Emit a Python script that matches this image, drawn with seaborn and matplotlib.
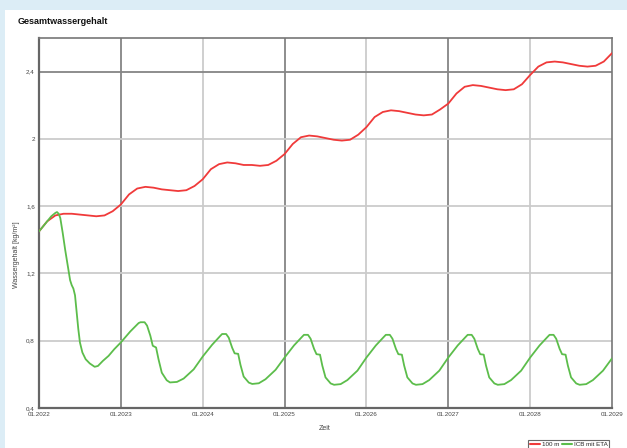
import matplotlib
matplotlib.use("Agg")
import matplotlib.pyplot as plt
from matplotlib.patches import Rectangle
from matplotlib.lines import Line2D
import numpy as np
import pandas as pd
import seaborn as sns

# ---- data -------------------------------------------------------------
serie_namen = ["100 m", "ICB mit ETA"]
serie_farben = ["#f03a3a", "#5cbd4b"]

# total water content over time (decimal years), kg/m²
rot_jahr = [
    2022.0, 2022.1, 2022.2, 2022.3, 2022.4, 2022.5, 2022.6, 2022.7, 2022.8, 2022.9,
    2023.0, 2023.1, 2023.2, 2023.3, 2023.4, 2023.5, 2023.6, 2023.7, 2023.8, 2023.9,
    2024.0, 2024.1, 2024.2, 2024.3, 2024.4, 2024.5, 2024.6, 2024.7, 2024.8, 2024.9,
    2025.0, 2025.1, 2025.2, 2025.3, 2025.4, 2025.5, 2025.6, 2025.7, 2025.8, 2025.9,
    2026.0, 2026.1, 2026.2, 2026.3, 2026.4, 2026.5, 2026.6, 2026.7, 2026.8, 2026.9,
    2027.0, 2027.1, 2027.2, 2027.3, 2027.4, 2027.5, 2027.6, 2027.7, 2027.8, 2027.9,
    2028.0, 2028.1, 2028.2, 2028.3, 2028.4, 2028.5, 2028.6, 2028.7, 2028.8, 2028.9,
    2029.0,
]
rot_wert = [
    1.45, 1.51, 1.545, 1.555, 1.555, 1.55, 1.545, 1.54, 1.545, 1.57,
    1.61, 1.67, 1.705, 1.715, 1.71, 1.70, 1.695, 1.69, 1.695, 1.72,
    1.76, 1.82, 1.85, 1.86, 1.855, 1.845, 1.845, 1.84, 1.845, 1.87,
    1.91, 1.97, 2.01, 2.02, 2.015, 2.005, 1.995, 1.99, 1.995, 2.025,
    2.07, 2.13, 2.16, 2.17, 2.165, 2.155, 2.145, 2.14, 2.145, 2.175,
    2.21, 2.27, 2.31, 2.32, 2.315, 2.305, 2.295, 2.29, 2.295, 2.325,
    2.38, 2.43, 2.455, 2.46, 2.455, 2.445, 2.435, 2.43, 2.435, 2.46,
    2.51,
]

gruen_jahr = [
    2022.00, 2022.05, 2022.10, 2022.15, 2022.20, 2022.22, 2022.24, 2022.26, 2022.29,
    2022.32, 2022.35, 2022.38, 2022.40, 2022.42, 2022.44, 2022.46, 2022.48, 2022.50,
    2022.53, 2022.57, 2022.62, 2022.68, 2022.72, 2022.78, 2022.85, 2022.92,
    2023.000, 2023.115, 2023.217, 2023.240, 2023.290, 2023.320, 2023.360, 2023.390,
    2023.430, 2023.460, 2023.500, 2023.560, 2023.600, 2023.685, 2023.767, 2023.890,
    2024.000, 2024.115, 2024.217, 2024.237, 2024.286, 2024.318, 2024.360, 2024.390,
    2024.433, 2024.461, 2024.500, 2024.563, 2024.605, 2024.685, 2024.767, 2024.890,
    2025.000, 2025.115, 2025.217, 2025.237, 2025.286, 2025.318, 2025.360, 2025.390,
    2025.433, 2025.461, 2025.500, 2025.563, 2025.605, 2025.685, 2025.767, 2025.890,
    2026.000, 2026.115, 2026.217, 2026.237, 2026.286, 2026.318, 2026.360, 2026.390,
    2026.433, 2026.461, 2026.500, 2026.563, 2026.605, 2026.685, 2026.767, 2026.890,
    2027.000, 2027.115, 2027.217, 2027.237, 2027.286, 2027.318, 2027.360, 2027.390,
    2027.433, 2027.461, 2027.500, 2027.563, 2027.605, 2027.685, 2027.767, 2027.890,
    2028.000, 2028.115, 2028.217, 2028.237, 2028.286, 2028.318, 2028.360, 2028.390,
    2028.433, 2028.461, 2028.500, 2028.563, 2028.605, 2028.685, 2028.767, 2028.890,
    2029.000,
]
gruen_wert = [
    1.45, 1.48, 1.51, 1.54, 1.56, 1.565, 1.555, 1.53, 1.44,
    1.34, 1.25, 1.16, 1.13, 1.11, 1.07, 0.97, 0.87, 0.79,
    0.73, 0.69, 0.665, 0.645, 0.65, 0.68, 0.71, 0.75,
    0.79, 0.855, 0.905, 0.91, 0.91, 0.89, 0.83, 0.77,
    0.76, 0.69, 0.61, 0.565, 0.552, 0.555, 0.575, 0.63,
    0.706, 0.776, 0.83, 0.84, 0.84, 0.818, 0.758, 0.725,
    0.722, 0.657, 0.587, 0.551, 0.543, 0.547, 0.571, 0.627,
    0.700, 0.772, 0.825, 0.835, 0.835, 0.812, 0.752, 0.72,
    0.717, 0.652, 0.582, 0.546, 0.538, 0.542, 0.566, 0.622,
    0.700, 0.772, 0.825, 0.835, 0.835, 0.812, 0.752, 0.72,
    0.717, 0.652, 0.582, 0.546, 0.538, 0.542, 0.566, 0.622,
    0.700, 0.772, 0.825, 0.835, 0.835, 0.812, 0.752, 0.72,
    0.717, 0.652, 0.582, 0.546, 0.538, 0.542, 0.566, 0.622,
    0.700, 0.772, 0.825, 0.835, 0.835, 0.812, 0.752, 0.72,
    0.717, 0.652, 0.582, 0.546, 0.538, 0.542, 0.566, 0.622,
    0.695,
]

x_ticks = [2022, 2023, 2024, 2025, 2026, 2027, 2028, 2029]
x_labels = ["01.2022", "01.2023", "01.2024", "01.2025",
            "01.2026", "01.2027", "01.2028", "01.2029"]
y_ticks = [0.4, 0.8, 1.2, 1.6, 2.0, 2.4]
y_labels = ["0,4", "0,8", "1,2", "1,6", "2", "2,4"]
x_grid_dunkel = [2023, 2025, 2027]
y_grid_dunkel = [2.4]

# ---- figure -----------------------------------------------------------
sns.set_theme(style="white")
plt.rcParams["font.family"] = ["Liberation Sans", "DejaVu Sans"]

W, H = 627, 448
fig = plt.figure(figsize=(W / 100, H / 100), dpi=100, facecolor="#dcedf6")

# white panel on the light blue page
panel = fig.add_axes([5 / W, 0, 1 - 5 / W, 1 - 10 / H], zorder=0)
panel.set_facecolor("white")
panel.set_axis_off()
panel.add_patch(Rectangle((0, 0), 1, 1, transform=panel.transAxes,
                          facecolor="white", edgecolor="none"))

ax = fig.add_axes([39 / W, 1 - 408 / H, (612 - 39) / W, (408 - 38) / H], zorder=2)
ax.set_facecolor("white")

df = pd.concat([
    pd.DataFrame({"Jahr": rot_jahr, "Wert": rot_wert, "Serie": serie_namen[0]}),
    pd.DataFrame({"Jahr": gruen_jahr, "Wert": gruen_wert, "Serie": serie_namen[1]}),
], ignore_index=True)

sns.lineplot(data=df, x="Jahr", y="Wert", hue="Serie",
             palette=dict(zip(serie_namen, serie_farben)),
             estimator=None, sort=False, linewidth=1.3, legend=False,
             ax=ax, zorder=3)

# grid: alternating dark / light lines
for xv in x_ticks[1:-1]:
    ax.axvline(xv, color="#858585" if xv in x_grid_dunkel else "#cbcbcb",
               lw=1.3, zorder=1)
for yv in y_ticks[1:]:
    ax.axhline(yv, color="#858585" if yv in y_grid_dunkel else "#cbcbcb",
               lw=1.3, zorder=1)

ax.set_xlim(2022, 2029)
ax.set_ylim(0.4, 2.6)
ax.set_xticks(x_ticks)
ax.set_xticklabels(x_labels)
ax.set_yticks(y_ticks)
ax.set_yticklabels(y_labels)
ax.tick_params(axis="both", length=0, labelsize=4.5, colors="#444444", pad=3)

for side in ["left", "bottom"]:
    ax.spines[side].set_color("#666666")
    ax.spines[side].set_linewidth(1.6)
for side in ["top", "right"]:
    ax.spines[side].set_color("#777777")
    ax.spines[side].set_linewidth(1.2)

ax.set_xlabel("Zeit", fontsize=5, color="#444444")
ax.set_ylabel("Wassergehalt [kg/m²]", fontsize=5, color="#444444")
ax.xaxis.set_label_coords((325 - 39) / (612 - 39), (408 - 425) / (408 - 38))
ax.yaxis.set_label_coords((20 - 39) / (612 - 39), (408 - 255) / (408 - 38))

fig.text(18 / W, 1 - 22 / H, "Gesamtwassergehalt", fontsize=6.5,
         fontweight="bold", color="#111111", va="center", ha="left", zorder=3)

handles = [Line2D([0], [0], color=c, lw=1.5) for c in serie_farben]
leg = fig.legend(handles, serie_namen, loc="upper left",
                 bbox_to_anchor=(528 / W, 1 - 440 / H), ncol=2, fontsize=4.5,
                 frameon=True, fancybox=False, edgecolor="#444444",
                 handlelength=1.6, handletextpad=0.3, columnspacing=0.4,
                 borderpad=0.3, borderaxespad=0)
leg.get_frame().set_linewidth(0.8)
leg.set_zorder(5)

fig.savefig("out.png", dpi=100, facecolor=fig.get_facecolor())
